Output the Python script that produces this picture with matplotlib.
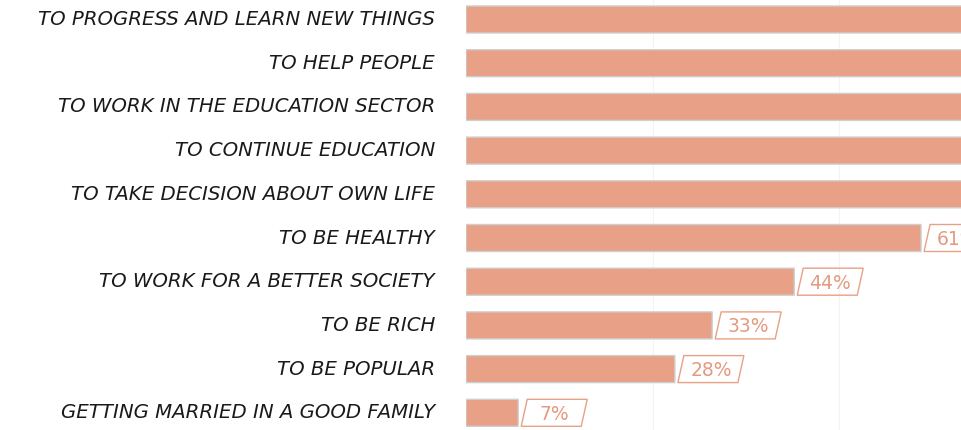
import matplotlib
matplotlib.use("Agg")
import matplotlib.pyplot as plt
from matplotlib.patches import Polygon, FancyBboxPatch

categories = [
    "TO PROGRESS AND LEARN NEW THINGS",
    "TO HELP PEOPLE",
    "TO WORK IN THE EDUCATION SECTOR",
    "TO CONTINUE EDUCATION",
    "TO TAKE DECISION ABOUT OWN LIFE",
    "TO BE HEALTHY",
    "TO WORK FOR A BETTER SOCIETY",
    "TO BE RICH",
    "TO BE POPULAR",
    "GETTING MARRIED IN A GOOD FAMILY",
]
values = [92, 90, 87, 80, 75, 61, 44, 33, 28, 7]
value_labels = [f"{v}%" for v in values]

BAR = "#E8A087"
EDGE = "#cfcfcf"

fig = plt.figure(figsize=(9.62, 4.30), dpi=100)
ax = fig.add_axes([466 / 962, 0, 1 - 466 / 962, 1])
ppx = 7.46  # pixels per percent
xmax = (962 - 466) / ppx
ax.set_xlim(0, xmax)
pitch = 43.7
ax.set_ylim((430 - 19.5) / pitch, -19.5 / pitch)

for g in (25, 50):
    ax.axvline(g, color="#f3f3f3", lw=0.8, zorder=0)

h = 27 / pitch
for i, (v, lab) in enumerate(zip(values, value_labels)):
    bar = FancyBboxPatch((0, i - h / 2), v, h,
                         boxstyle="round,pad=0,rounding_size=0.02",
                         mutation_aspect=pitch / ppx,
                         facecolor=BAR, edgecolor=EDGE, lw=1.0, zorder=2)
    ax.add_patch(bar)
    x0 = v + 3 / ppx
    w = 60 / ppx
    s = 6 / ppx
    if x0 < xmax:
        poly = Polygon([(x0, i + h / 2), (x0 + s, i - h / 2), (x0 + s + w, i - h / 2),
                        (x0 + w, i + h / 2)], closed=True, fill=False,
                       edgecolor=BAR, lw=1.0, zorder=2)
        ax.add_patch(poly)
        ax.text(x0 + s / 2 + w / 2, i + 0.03, lab, ha="center", va="center",
                fontsize=13.5, color="#E59A80", family="DejaVu Sans",
                clip_on=True, zorder=3)
    fig.text(435 / 962, 1 - (19.5 + pitch * i) / 430, categories[i],
             ha="right", va="center", fontsize=14.2, family="DejaVu Sans",
             style="italic", color="#1a1a1a")

ax.axis("off")
fig.savefig("out.png", dpi=100)
